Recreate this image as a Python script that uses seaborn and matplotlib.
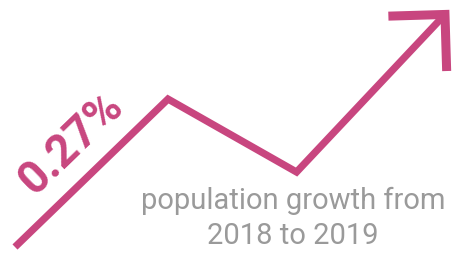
import numpy as np
import pandas as pd
import seaborn as sns
import matplotlib.pyplot as plt

# Trend data (zigzag up)
step = [0.0, 1.0, 1.84, 2.81]
level = [0.0, 0.967, 0.49, 1.52]
headline = "0.27%"
caption = "population growth from\n2018 to 2019"

pink = "#C8467F"
grey = "#9A9A9A"

sns.set_theme(style="white")
plt.rcParams['font.family'] = ['Roboto', 'DejaVu Sans']

df = pd.DataFrame({"step": step, "level": level})

fig = plt.figure(figsize=(4.54, 2.55), dpi=100)
ax = fig.add_axes([0, 0, 1, 1])

sns.lineplot(data=df, x="step", y="level", sort=False, color=pink, lw=5.2,
             ax=ax, solid_joinstyle="miter", solid_capstyle="butt")

# Arrow head, arms at +-135 deg from shaft direction
dx = step[-1] - step[-2]
dy = level[-1] - level[-2]
ang = np.arctan2(dy, dx)
head = 0.37
a1 = ang + np.deg2rad(135)
a2 = ang - np.deg2rad(135)
hx = [step[-1] + head * np.cos(a1), step[-1], step[-1] + head * np.cos(a2)]
hy = [level[-1] + head * np.sin(a1), level[-1], level[-1] + head * np.sin(a2)]
ax.plot(hx, hy, color=pink, lw=6.5, solid_joinstyle="miter", solid_capstyle="butt")

ax.text(0.365, 0.69, headline, color=pink, fontsize=33, fontweight="bold",
        rotation=44, rotation_mode="anchor", ha="center", va="center")
ax.text(1.817, 0.195, caption, color=grey, fontsize=21, ha="center", va="center",
        multialignment="center", linespacing=1.3)

ax.set_xlim(-0.098, 2.869)
ax.set_ylim(-0.0458, 1.621)
ax.axis("off")

fig.savefig("out.png", dpi=100)
